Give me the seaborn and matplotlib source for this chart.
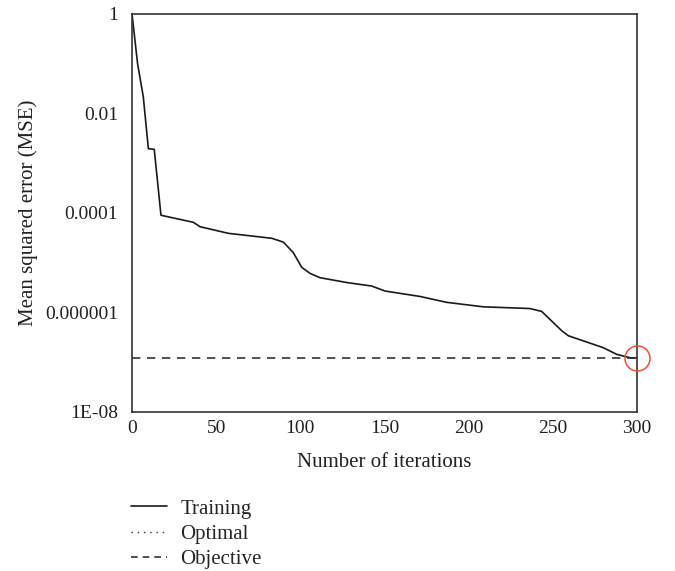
import numpy as np
import pandas as pd
import matplotlib
matplotlib.use("Agg")
import matplotlib.pyplot as plt
import seaborn as sns
from matplotlib.lines import Line2D

# Du lieu doc tu hinh
iterations = [0, 3.3, 6.7, 9.7, 13.2, 17.2, 36.4, 40.4, 57.2, 83, 89.9, 95.8,
              100.8, 105.8, 111.7, 127.6, 142.4, 150.3, 171.1, 186.9, 208.7,
              236.5, 243.4, 255.3, 259.3, 280, 288, 296, 300]
mse_training = [1, 0.1, 0.0215, 0.00196, 0.0019, 9e-5, 6.5e-5, 5.3e-5, 3.9e-5,
                3.1e-5, 2.6e-5, 1.6e-5, 8.1e-6, 6.1e-6, 5.0e-6, 4.0e-6, 3.4e-6,
                2.7e-6, 2.1e-6, 1.6e-6, 1.3e-6, 1.2e-6, 1.05e-6, 4.3e-7, 3.4e-7,
                1.96e-7, 1.44e-7, 1.23e-7, 1.22e-7]
objective_x = [0, 300]
objective_mse = [1.22e-7, 1.22e-7]
ytick_values = [1, 1e-2, 1e-4, 1e-6, 1e-8]
ytick_labels = ["1", "0.01", "0.0001", "0.000001", "1E-08"]
xtick_values = [0, 50, 100, 150, 200, 250, 300]

sns.set_theme(style="white")
plt.rcParams['font.family'] = ['Liberation Serif', 'DejaVu Serif']

fig = plt.figure(figsize=(6.75, 5.71), dpi=100)
ax = fig.add_axes([0.1956, 0.2785, 0.748, 0.697])

df_train = pd.DataFrame({'x': iterations, 'y': mse_training})
df_obj = pd.DataFrame({'x': objective_x, 'y': objective_mse})

sns.lineplot(data=df_train, x='x', y='y', ax=ax, color='#1a1a1a', linewidth=1.2)
sns.lineplot(data=df_obj, x='x', y='y', ax=ax, color='#333333', linewidth=1.2,
             linestyle=(0, (5, 4)))

# vong tron do o diem cuoi
ax.plot([objective_x[-1]], [objective_mse[-1]], marker='o', markersize=18,
        markerfacecolor='none', markeredgecolor='#f0502a', markeredgewidth=1.1,
        clip_on=False, zorder=5)

ax.set_yscale('log')
ax.set_xlim(0, 300)
ax.set_ylim(1e-8, 1)
ax.set_yticks(ytick_values)
ax.set_yticklabels(ytick_labels)
ax.set_xticks(xtick_values)
ax.minorticks_off()
ax.tick_params(axis='both', length=0, labelsize=14, colors='#222222')
ax.tick_params(axis='y', pad=10)
ax.tick_params(axis='x', pad=6)

for s in ax.spines.values():
    s.set_visible(True)
    s.set_color('#333333')
    s.set_linewidth(1.2)

ax.set_xlabel('Number of iterations', fontsize=15, color='#222222', labelpad=11)
ax.set_ylabel('Mean squared error (MSE)', fontsize=15, color='#222222', labelpad=5)

handles = [Line2D([], [], color='#1a1a1a', linewidth=1.2),
           Line2D([], [], color='#333333', linewidth=1.0, linestyle=(0, (1, 3.5))),
           Line2D([], [], color='#333333', linewidth=1.2, linestyle=(0, (4, 3)))]
fig.legend(handles, ['Training', 'Optimal', 'Objective'], loc='upper left',
           bbox_to_anchor=(0.194, 0.126), frameon=False, fontsize=15,
           handlelength=1.75, handletextpad=0.62, labelspacing=0.28,
           borderaxespad=0, borderpad=0)

fig.savefig('out.png', dpi=100)
